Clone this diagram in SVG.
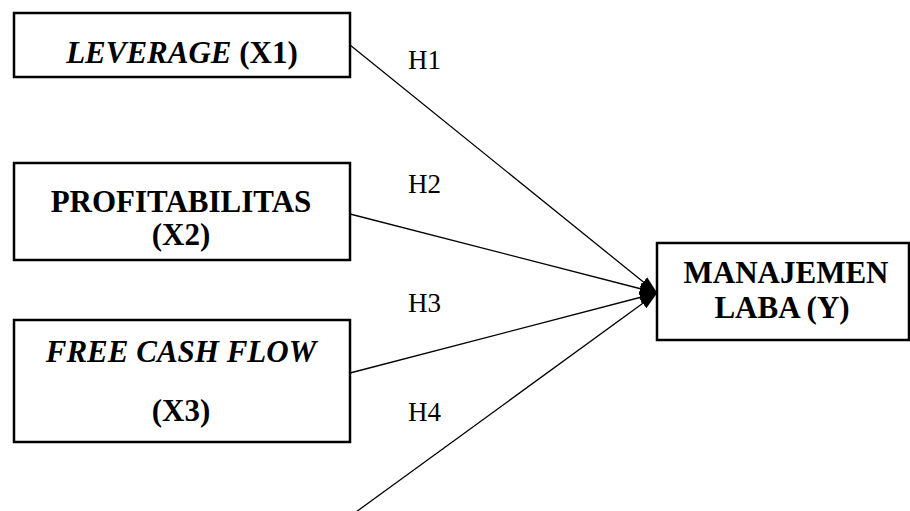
<svg xmlns="http://www.w3.org/2000/svg" width="910" height="511" viewBox="0 0 910 511">
<style>
.box{fill:#fff;stroke:#000;stroke-width:2.5}
.t{font-family:"Liberation Serif","Times New Roman",serif;font-size:31px;font-weight:bold;fill:#000;text-anchor:middle}
.i{font-style:italic}
.h{font-family:"Liberation Serif","Times New Roman",serif;font-size:27px;fill:#000}
.c{fill:none;stroke:#000;stroke-width:1.3}
</style>
<defs>
<marker id="ah" markerUnits="userSpaceOnUse" markerWidth="18" markerHeight="14" viewBox="0 0 18 14" refX="17.5" refY="7" orient="auto">
<path d="M0,1 L18,7 L0,13 Z" fill="#000"/>
</marker>
</defs>
<rect width="910" height="511" fill="#fff"/>
<g id="x1">
<rect class="box" x="14" y="13" width="336" height="64"/>
<text class="t" x="182" y="63"><tspan class="i">LEVERAGE</tspan> (X1)</text>
</g>
<g id="x2">
<rect class="box" x="14" y="163" width="336" height="97"/>
<text class="t" x="181" y="212">PROFITABILITAS</text>
<text class="t" x="181" y="245">(X2)</text>
</g>
<g id="x3">
<rect class="box" x="14" y="320" width="336" height="122"/>
<text class="t i" x="181" y="362">FREE CASH FLOW</text>
<text class="t" x="181" y="421">(X3)</text>
</g>
<g id="y">
<rect class="box" x="657" y="243" width="252" height="97"/>
<text class="t" x="786" y="283">MANAJEMEN</text>
<text class="t" x="782" y="318">LABA (Y)</text>
</g>
<g id="connectors">
<line class="c" x1="350" y1="45" x2="657" y2="293" marker-end="url(#ah)"/>
<line class="c" x1="350" y1="214" x2="657" y2="293" marker-end="url(#ah)"/>
<line class="c" x1="350" y1="373" x2="657" y2="293" marker-end="url(#ah)"/>
<line class="c" x1="356" y1="512" x2="657" y2="293" marker-end="url(#ah)"/>
<text class="h" x="408" y="69">H1</text>
<text class="h" x="408" y="193">H2</text>
<text class="h" x="408" y="312">H3</text>
<text class="h" x="408" y="421">H4</text>
</g>
</svg>
